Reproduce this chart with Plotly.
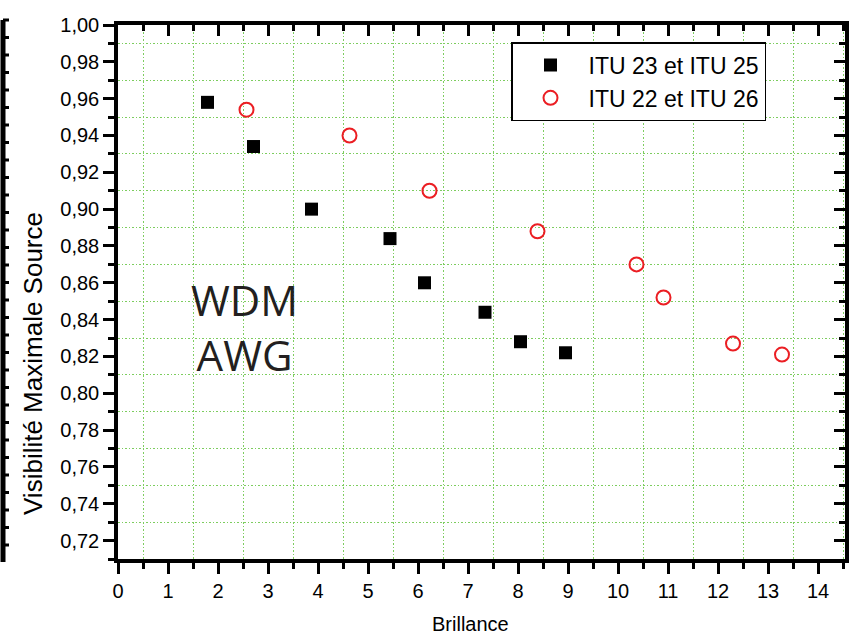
import plotly.graph_objects as go

# ITU 23 et ITU 25 (carrés noirs)
brillance_a = [1.79, 2.71, 3.87, 5.44, 6.13, 7.34, 8.05, 8.95]
visibilite_a = [0.958, 0.934, 0.900, 0.884, 0.860, 0.844, 0.828, 0.822]

# ITU 22 et ITU 26 (cercles rouges)
brillance_b = [2.57, 4.63, 6.23, 8.39, 10.37, 10.91, 12.30, 13.28]
visibilite_b = [0.954, 0.940, 0.910, 0.888, 0.870, 0.852, 0.827, 0.821]

x_range = [0, 14.54]
y_range = [0.71, 1.0]

W, H = 849, 642
L, R, T, B = 118, 4, 25, 83
pw, ph = W - L - R, H - T - B


def px(x):
    return (x - L) / pw


def py(y):
    return (H - B - y) / ph


grid_green = "rgb(125,205,95)"
grid_dash = "1.5px,2px"
font_main = "Liberation Sans, Arial, sans-serif"

fig = go.Figure()

fig.add_trace(go.Scatter(
    x=brillance_a, y=visibilite_a, mode="markers", name="ITU 23 et ITU 25",
    marker=dict(symbol="square", size=13, color="black",
                line=dict(width=0))
))
fig.add_trace(go.Scatter(
    x=brillance_b, y=visibilite_b, mode="markers", name="ITU 22 et ITU 26",
    marker=dict(symbol="circle-open", size=14, color="rgb(235,30,35)",
                line=dict(width=2, color="rgb(235,30,35)"))
))
# invisible trace to activate mirror axes (top / right)
fig.add_trace(go.Scatter(x=[None], y=[None], xaxis="x2", yaxis="y2",
                         showlegend=False, hoverinfo="skip"))

axis_common = dict(showline=True, linewidth=3.5, linecolor="black",
                   zeroline=False, showgrid=False, automargin=False)

fig.update_layout(
    width=W, height=H,
    margin=dict(l=L, r=R, t=T, b=B),
    paper_bgcolor="white", plot_bgcolor="white",
    separators=", ",
    font=dict(family=font_main, size=20, color="black"),
    xaxis=dict(
        **axis_common, range=x_range, tick0=0, dtick=1,
        ticks="outside", ticklen=11, tickwidth=3, tickcolor="black",
        tickfont=dict(size=20),
        minor=dict(dtick=0.5, ticks="outside", ticklen=6, tickwidth=3,
                   tickcolor="black", showgrid=True, gridcolor=grid_green,
                   griddash=grid_dash, gridwidth=1.3),
    ),
    yaxis=dict(
        **axis_common, range=y_range, tick0=0.72, dtick=0.02,
        tickformat=".2f",
        ticks="outside", ticklen=11, tickwidth=3, tickcolor="black",
        tickfont=dict(size=20),
        minor=dict(dtick=0.01, ticks="outside", ticklen=6, tickwidth=3,
                   tickcolor="black", showgrid=True, gridcolor=grid_green,
                   griddash=grid_dash, gridwidth=1.3),
    ),
    xaxis2=dict(
        **axis_common, range=x_range, overlaying="x", side="top",
        anchor="y", tick0=0, dtick=1, showticklabels=False,
        ticks="inside", ticklen=11, tickwidth=3, tickcolor="black",
        minor=dict(dtick=0.5, ticks="inside", ticklen=6, tickwidth=3,
                   tickcolor="black"),
    ),
    yaxis2=dict(
        **axis_common, range=y_range, overlaying="y", side="right",
        anchor="x", tick0=0.72, dtick=0.02, showticklabels=False,
        ticks="inside", ticklen=11, tickwidth=3, tickcolor="black",
        minor=dict(dtick=0.01, ticks="inside", ticklen=6, tickwidth=3,
                   tickcolor="black"),
    ),
    legend=dict(
        x=px(511), y=py(42), xanchor="left", yanchor="top",
        bgcolor="white", bordercolor="black", borderwidth=1.5,
        font=dict(size=23), itemwidth=66,
    ),
    showlegend=True,
)

annotations = [
    dict(text="WDM<br>AWG", x=px(244), y=py(327), xref="paper", yref="paper",
         showarrow=False, xanchor="center", yanchor="middle",
         font=dict(family="Open Sans, Noto Sans, sans-serif", size=42,
                   color="rgb(35,31,32)")),
    dict(text="Visibilité Maximale Source", x=px(33), y=py(364),
         xref="paper", yref="paper", showarrow=False, textangle=-90,
         xanchor="center", yanchor="middle", font=dict(size=26)),
    dict(text="Brillance", x=px(470), y=py(624), xref="paper", yref="paper",
         showarrow=False, xanchor="center", yanchor="middle",
         font=dict(size=20)),
]
fig.update_layout(annotations=annotations)

# edge of a neighbouring panel, cut off at the left border
shapes = [dict(type="line", xref="paper", yref="paper",
               x0=px(3), x1=px(3), y0=py(20), y1=py(562),
               line=dict(color="black", width=5))]
yy = 20.0
while yy <= 562:
    shapes.append(dict(type="line", xref="paper", yref="paper",
                       x0=px(3), x1=px(9), y0=py(yy), y1=py(yy),
                       line=dict(color="black", width=3)))
    yy += 17.5
fig.update_layout(shapes=shapes)

fig.write_html(
    "out.html",
    config={"displayModeBar": False},
    post_script="document.body.style.margin='0';"
                "document.body.style.overflow='hidden';",
)
